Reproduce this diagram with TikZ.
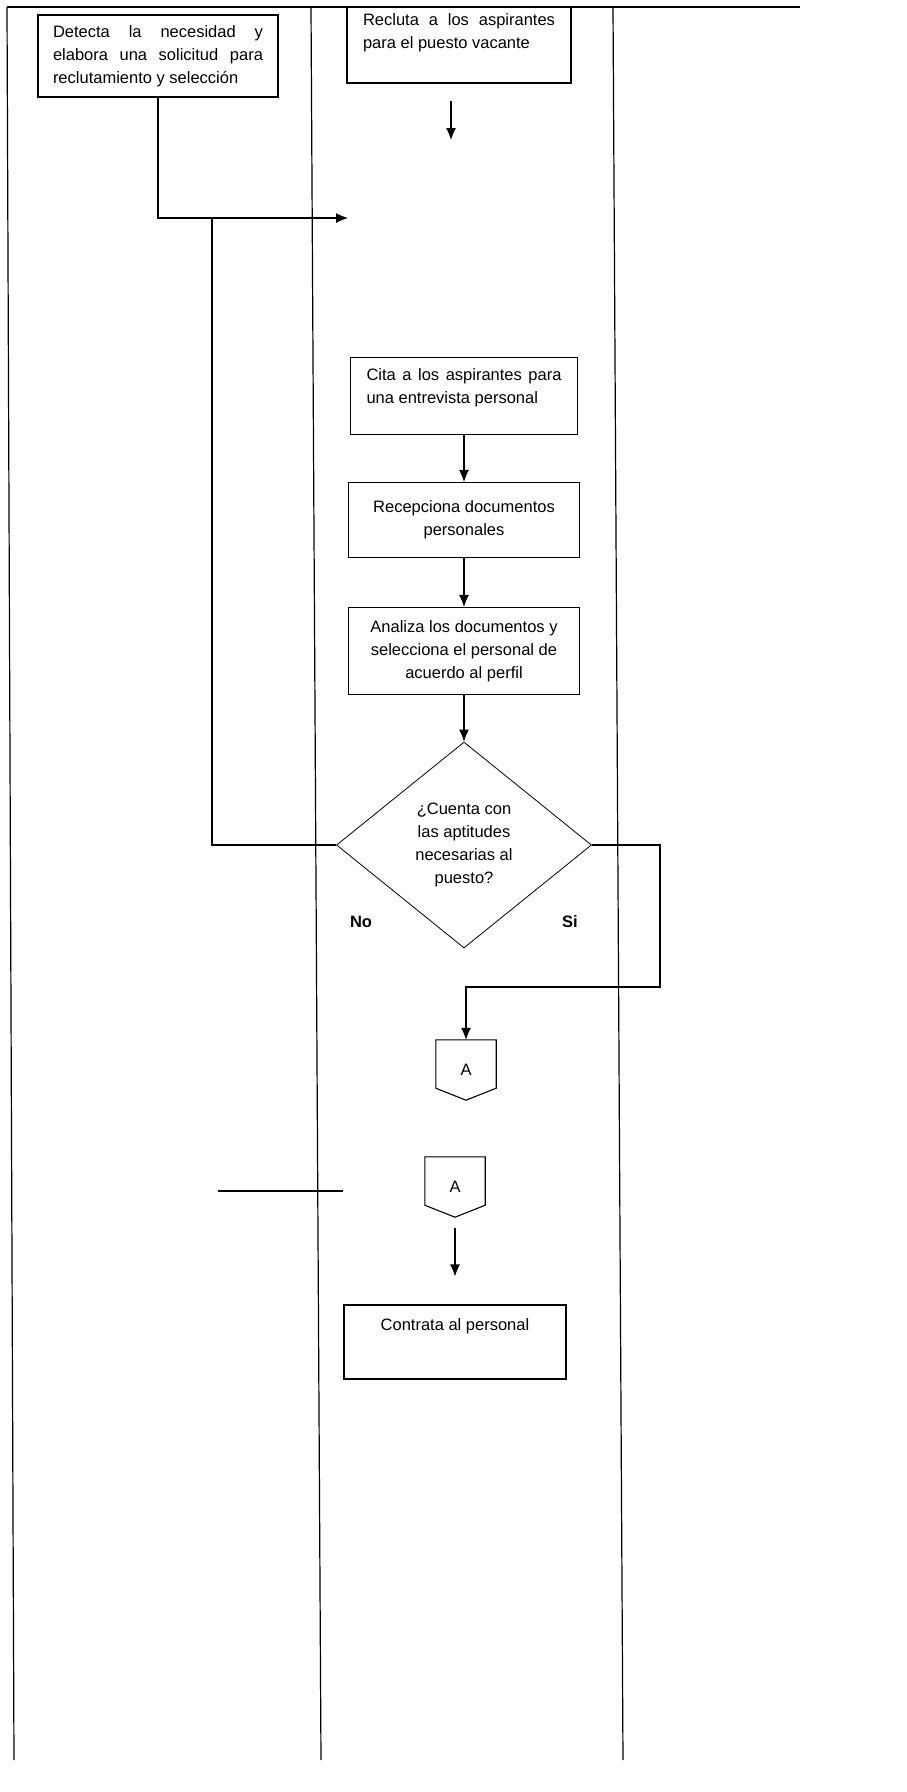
\documentclass[tikz,border=0pt]{standalone}
\usepackage{fontspec}
\setmainfont{Liberation Sans}
\usetikzlibrary{shapes.geometric, arrows.meta}

\begin{document}
\begin{tikzpicture}[
    x=1pt, y=-1pt,
    every node/.style={font=\fontsize{16.5}{23}\selectfont},
    lane/.style={line width=1.2pt},
    linea/.style={line width=1.1pt},
    proceso/.style={rectangle, draw=black, line width=1.1pt, inner sep=0pt},
    decision/.style={diamond, draw=black, line width=0.8pt, aspect=1.24, minimum width=255pt, minimum height=206pt, inner sep=1pt, align=center},
    conector/.style={rectangle, minimum width=60pt, minimum height=60pt, inner sep=0pt},
    flecha/.style={->, line width=1.1pt},
    etiqueta/.style={font=\fontsize{16.5}{23}\selectfont\bfseries},
    >={Latex[length=12pt, width=10pt]}
]
\useasboundingbox (0,0) rectangle (907,1792);

% Carriles
\draw[lane] (7,7) -- (800,7);
\draw[lane] (7,7) -- (14,1760);
\draw[lane] (311,7) -- (321,1760);
\draw[lane] (613,7) -- (623,1760);

% Area solicitante
\node[proceso, minimum width=240pt, minimum height=82pt, text width=210pt, align=justify] (detecta) at (158,56) {Detecta la necesidad y\linebreak elabora una solicitud para\linebreak reclutamiento y selección};

% Recursos humanos
\node[proceso, minimum width=224pt, minimum height=76pt, text width=192pt, align=justify] (recluta) at (459,45) {Recluta a los aspirantes\linebreak para el puesto vacante\rule[-27pt]{0pt}{27pt}};
\node[proceso, minimum width=227pt, minimum height=77pt, text width=195pt, align=justify] (cita) at (464,396) {Cita a los aspirantes para\linebreak una entrevista personal\rule[-20pt]{0pt}{20pt}};
\node[proceso, minimum width=231pt, minimum height=75pt, align=center] (recepciona) at (464,520) {Recepciona documentos\\personales};
\node[proceso, minimum width=231pt, minimum height=87pt, align=center] (analiza) at (464,651) {Analiza los documentos y\\selecciona el personal de\\acuerdo al perfil};
\node[decision] (cuenta) at (464,845) {¿Cuenta con\\las aptitudes\\necesarias al\\puesto?};
\node[etiqueta] (no) at (361,922) {No};
\node[etiqueta] (si) at (570,922) {Si};

% Conectores
\node[conector] (conA) at (466,1070) {A};
\node[conector] (conB) at (455,1187) {A};
\draw[linea] (conA.north west) -- (conA.north east) -- ([yshift=12pt]conA.south east) -- (conA.south) -- ([yshift=12pt]conA.south west) -- cycle;
\draw[linea] (conB.north west) -- (conB.north east) -- ([yshift=12pt]conB.south east) -- (conB.south) -- ([yshift=12pt]conB.south west) -- cycle;

\node[proceso, minimum width=222pt, minimum height=74pt] (contrata) at (455,1342) {Contrata al personal\rule[-34pt]{0pt}{34pt}};

% Puntos de paso
\coordinate (vuelta) at (212,218);
\coordinate (entrada) at (348,218);
\coordinate (pasoR) at (451,140);
\coordinate (bajada) at (660,987);
\coordinate (fragI) at (218,1191);
\coordinate (fragD) at (343,1191);

% Flujo
\draw[flecha] (detecta.south) |- (entrada);
\draw[linea] (cuenta.west) -| (vuelta);
\draw[flecha, shorten <=17pt] (recluta.south -| pasoR) -- (pasoR);
\draw[flecha] (cita.south) -- (recepciona.north);
\draw[flecha] (recepciona.south) -- (analiza.north);
\draw[flecha] (analiza.south) -- (cuenta.north);
\draw[flecha] (cuenta.east) -| (bajada) -| (conA.north);
\draw[flecha, shorten <=11pt, shorten >=28pt] (conB.south) -- (contrata.north);
\draw[lane] (fragI) -- (fragD);

\end{tikzpicture}
\end{document}
